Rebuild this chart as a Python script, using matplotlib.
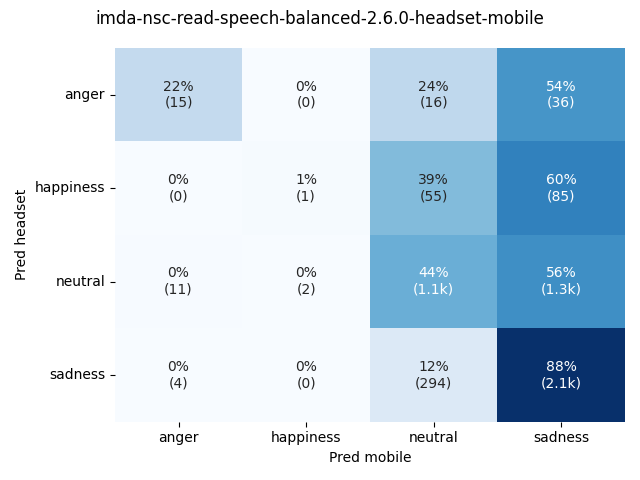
import numpy as np
import matplotlib
matplotlib.use("Agg")
import matplotlib.pyplot as plt
import seaborn as sns

labels = ["anger", "happiness", "neutral", "sadness"]
counts = np.array([
    [15, 0, 16, 36],
    [0, 1, 55, 85],
    [11, 2, 1060, 1340],
    [4, 0, 294, 2120],
])

pct = counts / counts.sum(axis=1, keepdims=True)


def fmt_count(n):
    if n >= 1000:
        return f"{n / 1000:.1f}k"
    return str(n)


annot = np.array([[f"{p:.0%}\n({fmt_count(c)})" for p, c in zip(prow, crow)]
                  for prow, crow in zip(pct, counts)])

fig, ax = plt.subplots(figsize=(6.4, 4.8), dpi=100)
sns.heatmap(pct, annot=annot, fmt="", cmap="Blues", cbar=False,
            xticklabels=labels, yticklabels=labels, ax=ax)
ax.set_xlabel("Pred mobile")
ax.set_ylabel("Pred headset")
ax.tick_params(axis="y", rotation=0)
fig.suptitle("imda-nsc-read-speech-balanced-2.6.0-headset-mobile")
fig.tight_layout()
fig.savefig("out.png")
